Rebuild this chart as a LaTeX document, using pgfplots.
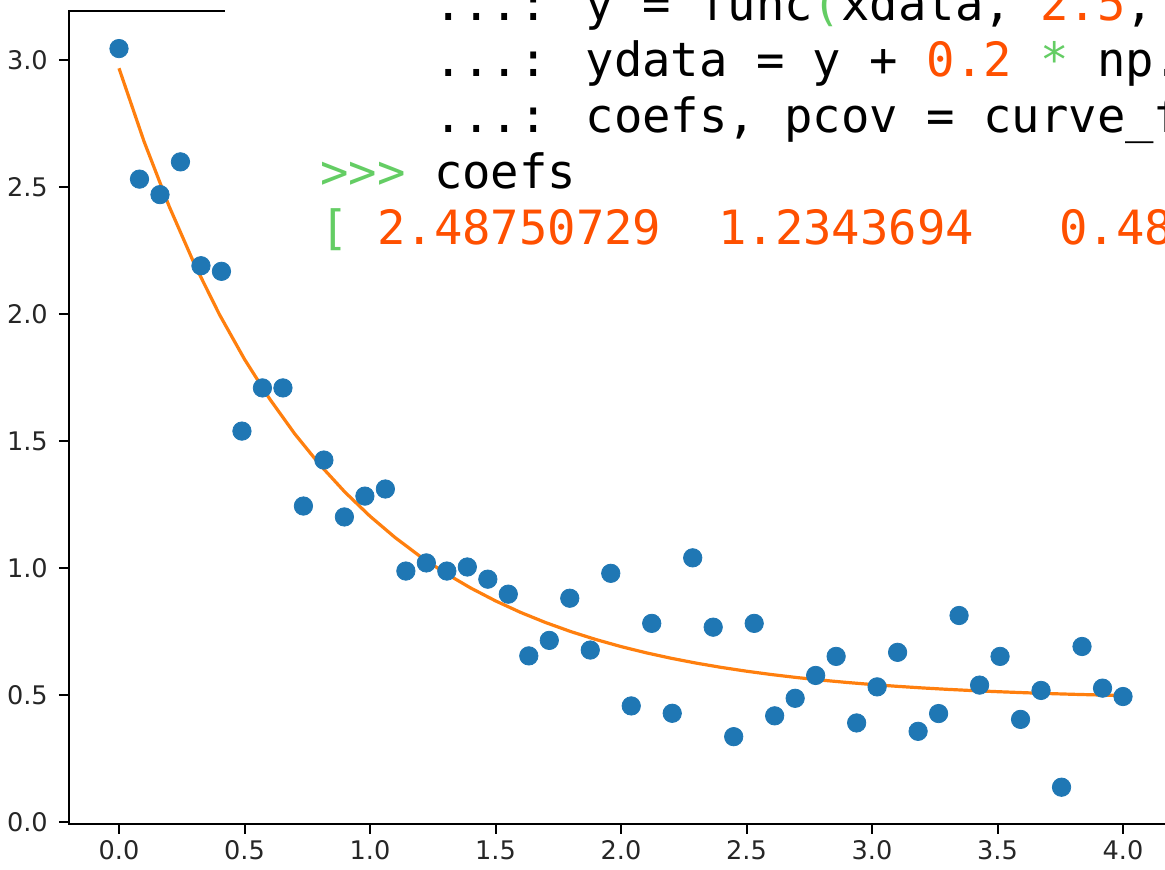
\documentclass[border=0pt]{standalone}
\usepackage{pgfplots}
\pgfplotsset{compat=1.18}
\usepackage{fontspec}
\setmainfont{DejaVu Sans}
\newfontfamily\codefont{DejaVu Sans Mono}

\definecolor{mplblue}{HTML}{1F77B4}
\definecolor{mplorange}{HTML}{FF7F0E}
\definecolor{pygreen}{RGB}{100,205,100}
\definecolor{pynum}{RGB}{255,80,0}

% noisy samples: xdata = linspace(0, 4, 50)
\pgfplotstableread{
x y
0.0000 3.045
0.0816 2.531
0.1633 2.470
0.2449 2.599
0.3265 2.190
0.4082 2.168
0.4898 1.539
0.5714 1.709
0.6531 1.709
0.7347 1.244
0.8163 1.425
0.8980 1.201
0.9796 1.283
1.0612 1.311
1.1429 0.988
1.2245 1.020
1.3061 0.988
1.3878 1.004
1.4694 0.956
1.5510 0.897
1.6327 0.654
1.7143 0.715
1.7959 0.881
1.8776 0.677
1.9592 0.979
2.0408 0.457
2.1224 0.782
2.2041 0.428
2.2857 1.040
2.3673 0.767
2.4490 0.336
2.5306 0.782
2.6122 0.418
2.6939 0.487
2.7755 0.577
2.8571 0.652
2.9388 0.390
3.0204 0.532
3.1020 0.668
3.1837 0.357
3.2653 0.427
3.3469 0.813
3.4286 0.539
3.5102 0.652
3.5918 0.404
3.6735 0.518
3.7551 0.137
3.8367 0.691
3.9184 0.527
4.0000 0.494
}\samples

% fitted model a*exp(-b*x)+c, a=2.4875, b=1.2344, c=0.48
\pgfplotstableread{
x y
0.0 2.9675
0.1 2.6787
0.2 2.4234
0.3 2.1977
0.4 1.9983
0.5 1.8219
0.6 1.6661
0.7 1.5284
0.8 1.4066
0.9 1.2990
1.0 1.2039
1.1 1.1199
1.2 1.0456
1.3 0.9799
1.4 0.9219
1.5 0.8706
1.6 0.8252
1.7 0.7851
1.8 0.7497
1.9 0.7184
2.0 0.6907
2.1 0.6662
2.2 0.6446
2.3 0.6255
2.4 0.6086
2.5 0.5937
2.6 0.5805
2.7 0.5688
2.8 0.5585
2.9 0.5494
3.0 0.5413
3.1 0.5342
3.2 0.5279
3.3 0.5223
3.4 0.5174
3.5 0.5131
3.6 0.5093
3.7 0.5058
3.8 0.5028
3.9 0.5002
4.0 0.4979
}\fitted

\begin{document}
\begin{tikzpicture}
\useasboundingbox (0pt,0pt) rectangle (582.5pt,434.5pt);
\clip (0pt,0pt) rectangle (582.5pt,434.5pt);
\begin{axis}[
  at={(34.4pt,22.55pt)}, anchor=south west,
  scale only axis, width=552.2pt, height=406.4pt,
  xmin=-0.2, xmax=4.2, ymin=-0.0075, ymax=3.1925,
  xtick={0,0.5,...,4}, ytick={0,0.5,...,3},
  xtick pos=bottom, ytick pos=left,
  tick align=outside, major tick length=5pt,
  axis line style={line width=1pt, black},
  every tick/.style={line width=1pt, black},
  tick label style={font=\fontsize{12.8}{14}\selectfont, text=black!85},
  yticklabel style={xshift=-2pt},
  /pgf/number format/fixed,
  /pgf/number format/fixed zerofill,
  /pgf/number format/precision=1,
  /pgf/number format/assume math mode=true,
]
\addplot[only marks, mark=*, mark size=4.6pt, color=mplblue,
  mark options={draw=none, fill=mplblue}] table[x=x, y=y] {\samples};
\addplot[mplorange, line width=1.6pt, no marks] table[x=x, y=y] {\fitted};
\end{axis}

% console excerpt laid over the upper right
\fill[white] (112.5pt,305pt) rectangle (600pt,440pt);
\begin{scope}[every node/.style={anchor=base west, inner sep=0pt,
    font=\codefont\fontsize{23.6}{28}\selectfont}]
\node at (160pt,424.25pt) {~~~~...: y = func\textcolor{pygreen}{(}xdata, \textcolor{pynum}{2.5}, \textcolor{pynum}{1.3}, \textcolor{pynum}{0.5}\textcolor{pygreen}{)}};
\node at (160pt,396.2pt) {~~~~...: ydata = y + \textcolor{pynum}{0.2} \textcolor{pygreen}{*} np.random.normal\textcolor{pygreen}{(}size=xdata.size\textcolor{pygreen}{)}};
\node at (160pt,368.15pt) {~~~~...: coefs, pcov = curve\_fit\textcolor{pygreen}{(}func, xdata, ydata\textcolor{pygreen}{)}};
\node at (160pt,340.1pt) {\textcolor{pygreen}{>>>} coefs};
\node at (160pt,312.05pt) {\textcolor{pygreen}{[} \textcolor{pynum}{2.48750729}~ \textcolor{pynum}{1.2343694}~~ \textcolor{pynum}{0.48}};
\end{scope}
\end{tikzpicture}
\end{document}
